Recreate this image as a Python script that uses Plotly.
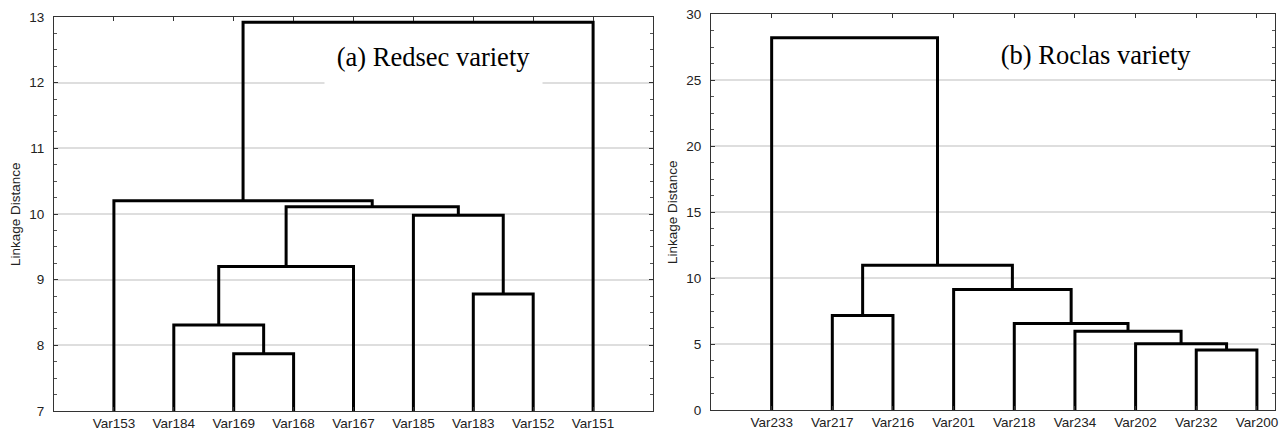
import plotly.graph_objects as go

# ---------------- data ----------------
# (a) Redsec variety
leaves_a = ["Var153", "Var184", "Var169", "Var168", "Var167", "Var185", "Var183", "Var152", "Var151"]
merge_left_a = ["Var169", "Var184", "Var183", "C2", "Var185", "C4", "Var153", "C7"]
merge_right_a = ["Var168", "C1", "Var152", "Var167", "C3", "C5", "C6", "Var151"]
merge_height_a = [7.87, 8.31, 8.78, 9.20, 9.98, 10.11, 10.20, 12.92]

# (b) Roclas variety
leaves_b = ["Var233", "Var217", "Var216", "Var201", "Var218", "Var234", "Var202", "Var232", "Var200"]
merge_left_b = ["Var232", "Var202", "Var234", "Var218", "Var217", "Var201", "C5", "Var233"]
merge_right_b = ["Var200", "C1", "C2", "C3", "Var216", "C4", "C6", "C7"]
merge_height_b = [4.54, 5.02, 5.97, 6.56, 7.15, 9.12, 10.96, 28.2]

title_a = "(a) Redsec variety"
title_b = "(b) Roclas variety"
ytitle = "Linkage Distance"


def dendro_segments(leaves, left, right, heights):
    pos = {name: i + 1 for i, name in enumerate(leaves)}
    hgt = {name: 0.0 for name in leaves}
    xs, ys = [], []
    for k, (l, r, h) in enumerate(zip(left, right, heights)):
        xl, xr = pos[l], pos[r]
        xs += [xl, xl, xr, xr, None]
        ys += [hgt[l], h, h, hgt[r], None]
        name = f"C{k + 1}"
        pos[name] = (xl + xr) / 2
        hgt[name] = h
    return xs, ys


xa, ya = dendro_segments(leaves_a, merge_left_a, merge_right_a, merge_height_a)
xb, yb = dendro_segments(leaves_b, merge_left_b, merge_right_b, merge_height_b)

W, H = 1283, 433

fig = go.Figure()
fig.add_trace(go.Scatter(x=xa, y=ya, mode="lines", line=dict(color="black", width=3),
                         xaxis="x", yaxis="y", showlegend=False, hoverinfo="skip"))
fig.add_trace(go.Scatter(x=xb, y=yb, mode="lines", line=dict(color="black", width=3),
                         xaxis="x2", yaxis="y2", showlegend=False, hoverinfo="skip"))

tickfont = dict(family="Arial, Liberation Sans, sans-serif", size=13.5, color="#222")
axis_line = dict(showline=True, linecolor="#333", linewidth=1, mirror="ticks", zeroline=False,
                 automargin=False)

fig.update_layout(
    width=W, height=H,
    margin=dict(l=0, r=0, t=0, b=0, autoexpand=False),
    paper_bgcolor="white", plot_bgcolor="white",
    xaxis=dict(domain=[54 / W, 653 / W], range=[0, 10], anchor="y",
               tickvals=list(range(1, len(leaves_a) + 1)), ticktext=leaves_a,
               ticks="inside", ticklen=4, tickcolor="#333", showgrid=False,
               tickfont=tickfont, ticklabelstandoff=0, **axis_line),
    yaxis=dict(domain=[(H - 411) / H, (H - 17) / H], range=[7, 13], anchor="x",
               tickvals=[7, 8, 9, 10, 11, 12, 13],
               ticks="inside", ticklen=4, tickcolor="#333",
               minor=dict(dtick=0.25, ticks="inside", ticklen=3, tickcolor="#555", showgrid=False),
               showgrid=True, gridcolor="#dedede", gridwidth=1.5,
               tickfont=tickfont, ticklabelstandoff=6, **axis_line),
    xaxis2=dict(domain=[711 / W, 1274.5 / W], range=[0, 9.29], anchor="y2",
                tickvals=list(range(1, len(leaves_b) + 1)), ticktext=leaves_b,
                ticks="inside", ticklen=4, tickcolor="#333", showgrid=False,
                tickfont=tickfont, ticklabelstandoff=0, **axis_line),
    yaxis2=dict(domain=[(H - 410) / H, (H - 14) / H], range=[0, 30], anchor="x2",
                tickvals=[0, 5, 10, 15, 20, 25, 30],
                ticks="inside", ticklen=4, tickcolor="#333",
                minor=dict(dtick=1.25, ticks="inside", ticklen=3, tickcolor="#555", showgrid=False),
                showgrid=True, gridcolor="#dedede", gridwidth=1.5,
                tickfont=tickfont, ticklabelstandoff=6, **axis_line),
)

serif = dict(family="Liberation Serif, Times New Roman, serif", size=26.5, color="black")
fig.add_annotation(text=title_a, xref="paper", yref="paper", x=433.5 / W, y=1 - 56.5 / H,
                   showarrow=False, font=serif, bgcolor="white", width=215, height=57,
                   xanchor="center", yanchor="middle")
fig.add_annotation(text=title_b, xref="paper", yref="paper", x=1096 / W, y=1 - 55 / H,
                   showarrow=False, font=serif, bgcolor="white", width=200, height=30,
                   xanchor="center", yanchor="middle")

ytfont = dict(family="Arial, Liberation Sans, sans-serif", size=13.5, color="#222")
fig.add_annotation(text=ytitle, xref="paper", yref="paper", x=15 / W, y=1 - 214 / H,
                   showarrow=False, font=ytfont, textangle=-90, xanchor="center", yanchor="middle")
fig.add_annotation(text=ytitle, xref="paper", yref="paper", x=672 / W, y=1 - 212 / H,
                   showarrow=False, font=ytfont, textangle=-90, xanchor="center", yanchor="middle")

post = (
    "var gd=document.getElementById('{plot_id}');"
    "var de=document.documentElement, b=document.body;"
    "[de,b].forEach(function(e){e.style.margin='0';e.style.padding='0';"
    "e.style.overflow='hidden';e.style.height='433px';e.style.width='1283px';});"
    "gd.style.position='absolute';gd.style.left='0px';gd.style.top='0px';"
)
fig.write_html("out.html", config={"displayModeBar": False}, post_script=post)
